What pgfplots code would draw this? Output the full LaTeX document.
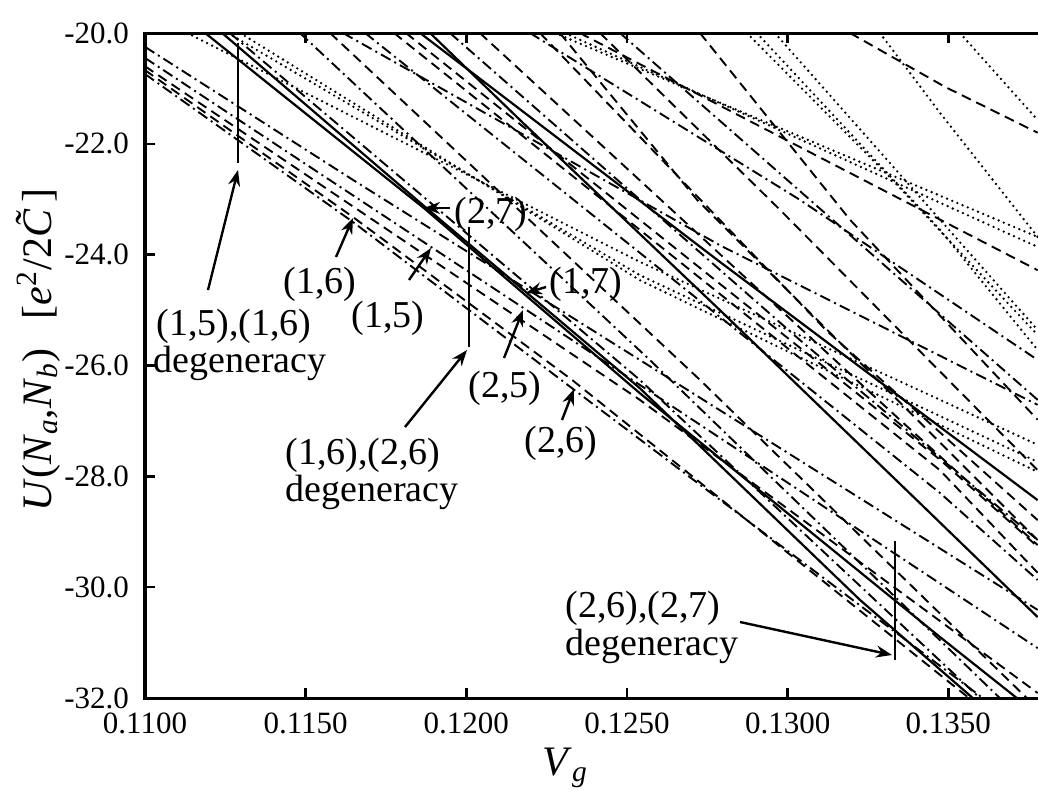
\documentclass[border=0pt]{standalone}
\usepackage{pgfplots}
\pgfplotsset{compat=1.18}
\usepackage{fontspec}
\setmainfont{Liberation Serif}
\usetikzlibrary{arrows.meta}

\tikzset{
  sol/.style={black, line width=1.1pt},
  dsh/.style={black, line width=0.95pt, dash pattern=on 5pt off 3pt},
  dd/.style={black, line width=0.95pt, dash pattern=on 5.5pt off 2.2pt on 1pt off 2.2pt},
  dot/.style={black, line width=1.3pt, line cap=round, dash pattern=on 0pt off 2.8pt},
  ann/.style={font=\fontsize{19}{22}\selectfont, inner sep=0pt},
  arr/.style={line width=1.2pt, -{Stealth[length=8pt,width=6pt]}},
  deg/.style={line width=1.4pt},
}

\begin{document}
\begin{tikzpicture}
\useasboundingbox (0,0) rectangle (519pt,394.5pt);
\begin{axis}[
  at={(72.5pt,45.5pt)}, anchor=south west,
  scale only axis, width=482pt, height=332.5pt,
  xmin=0.11, xmax=0.14, ymin=-32, ymax=-20,
  axis line style={line width=1.5pt},
  xtick={0.11,0.115,0.12,0.125,0.13,0.135},
  ytick={-32,-30,-28,-26,-24,-22,-20},
  tick align=inside, xtick pos=both, ytick pos=left,
  major tick length=5pt,
  major tick style={line width=1.3pt, black},
  scaled x ticks=false,
  xticklabel style={/pgf/number format/fixed, /pgf/number format/fixed zerofill, /pgf/number format/precision=4, yshift=-4pt},
  yticklabel style={/pgf/number format/fixed, /pgf/number format/fixed zerofill, /pgf/number format/precision=1, xshift=-4.5pt},
  /pgf/number format/assume math mode=true,
  tick label style={font=\fontsize{15.5}{18}\selectfont},
]
% solid
\addplot[sol] coordinates {(0.11187,-20.00) (0.11868,-23.16) (0.12540,-26.50) (0.13474,-30.90) (0.13713,-32.00)};
\addplot[sol] coordinates {(0.11240,-20.00) (0.11868,-23.12) (0.12540,-26.41) (0.13225,-30.23) (0.13576,-32.00)};
\addplot[sol] coordinates {(0.11856,-20.00) (0.12789,-24.13) (0.13778,-28.43)};
\addplot[sol] coordinates {(0.11887,-20.00) (0.12176,-21.62) (0.12789,-25.00) (0.13402,-28.43) (0.13778,-30.54)};
% lowest band from the left edge
\addplot[dd] coordinates {(0.11000,-20.25) (0.11647,-22.65) (0.12540,-25.90) (0.13778,-30.41)};
\addplot[dd] coordinates {(0.11000,-20.45) (0.11890,-23.86) (0.12540,-26.35) (0.13778,-31.10)};
\addplot[dsh] coordinates {(0.11000,-20.60) (0.12540,-26.62) (0.13778,-31.91)};
\addplot[dd] coordinates {(0.11000,-20.74) (0.11647,-23.41) (0.12329,-26.41) (0.13607,-32.00)};
\addplot[dsh] coordinates {(0.11000,-20.67) (0.11647,-23.32) (0.12329,-26.26) (0.13564,-32.00)};
% dotted
\addplot[dot] coordinates {(0.11131,-20.00) (0.12540,-24.13) (0.13778,-27.43)};
\addplot[dot] coordinates {(0.11258,-20.00) (0.12540,-24.37) (0.13778,-27.74)};
\addplot[dot] coordinates {(0.11296,-20.00) (0.12540,-24.46) (0.13778,-27.92)};
% middle
\addplot[dd] coordinates {(0.11616,-20.00) (0.12789,-23.83) (0.13778,-26.71)};
\addplot[dsh] coordinates {(0.11775,-20.00) (0.13474,-27.89) (0.13778,-29.74)};
\addplot[dd] coordinates {(0.11685,-20.00) (0.13474,-28.30) (0.13778,-29.87)};
\addplot[dsh] coordinates {(0.11812,-20.00) (0.13474,-27.70) (0.13778,-29.27)};
\addplot[dd] coordinates {(0.11264,-20.00) (0.12540,-26.26) (0.13598,-32.00)};
\addplot[dsh] coordinates {(0.11576,-20.00) (0.12727,-26.26) (0.13744,-32.00)};
\addplot[dd] coordinates {(0.11482,-20.00) (0.12571,-25.90) (0.13660,-32.00)};
\addplot[dd] coordinates {(0.11949,-20.00) (0.13038,-25.54) (0.13778,-29.15)};
\addplot[dsh] coordinates {(0.12042,-20.00) (0.13349,-26.98) (0.13778,-29.24)};
% upper right
\addplot[dot] coordinates {(0.12276,-20.00) (0.13778,-23.68)};
\addplot[dot] coordinates {(0.12307,-20.00) (0.13778,-23.86)};
\addplot[dsh] coordinates {(0.12353,-20.00) (0.13778,-24.28)};
\addplot[dd] coordinates {(0.12198,-20.00) (0.13038,-23.01) (0.13778,-25.90)};
\addplot[dsh] coordinates {(0.12291,-20.00) (0.12718,-23.01) (0.13778,-29.15)};
\addplot[dsh] coordinates {(0.12229,-20.00) (0.13119,-25.36) (0.13778,-28.79)};
\addplot[dsh] coordinates {(0.12416,-20.00) (0.12976,-23.19) (0.13778,-27.89)};
\addplot[dd] coordinates {(0.12478,-20.00) (0.13778,-26.62)};
\addplot[dsh] coordinates {(0.12727,-20.00) (0.13194,-23.37) (0.13778,-26.98)};
\addplot[dot] coordinates {(0.12873,-20.00) (0.13321,-22.62) (0.13778,-25.45)};
\addplot[dot] coordinates {(0.12904,-20.00) (0.13474,-23.55) (0.13778,-25.72)};
\addplot[dot] coordinates {(0.12960,-20.00) (0.13778,-25.36)};
\addplot[dot] coordinates {(0.13287,-20.00) (0.13474,-21.44) (0.13778,-23.68)};
\addplot[dot] coordinates {(0.13536,-20.00) (0.13778,-21.57)};
\addplot[dsh] coordinates {(0.13194,-20.00) (0.13489,-20.97) (0.13778,-21.80)};
\end{axis}

% labels and annotations, in picture pixels (origin top left)
\begin{scope}[yshift=394.5pt, x=0.5pt, y=-0.5pt]
\node[rotate=90, font=\fontsize{21}{24}\selectfont] at (38,350)
  {\textit{U}(\textit{N}\textsubscript{\textit{a}},\textit{N}\textsubscript{\textit{b}})\hspace{15pt}[\textit{e}\textsuperscript{2}/2\textit{C^^^^0303}\kern-0.22em]};
\node[font=\fontsize{21}{24}\selectfont, anchor=base] at (565,775) {\textit{V}\textsubscript{\textit{g}}};

\node[ann, anchor=base west] at (156,335) {(1,5),(1,6)};
\node[ann, anchor=base west] at (153,372) {degeneracy};
\node[ann, anchor=base west] at (283,293) {(1,6)};
\node[ann, anchor=base west] at (351,327) {(1,5)};
\node[ann, anchor=base west] at (454,223) {(2,7)};
\node[ann, anchor=base west] at (549,293) {(1,7)};
\node[ann, anchor=base west] at (468,397) {(2,5)};
\node[ann, anchor=base west] at (524,452) {(2,6)};
\node[ann, anchor=base west] at (285,464) {(1,6),(2,6)};
\node[ann, anchor=base west] at (285,501) {degeneracy};
\node[ann, anchor=base west] at (565,617) {(2,6),(2,7)};
\node[ann, anchor=base west] at (565,655) {degeneracy};

\draw[deg] (238,43) -- (238,163);
\draw[arr] (208,290) -- (238,170);
\draw[arr] (336,257) -- (353,218);
\draw[arr] (409,280) -- (431,248);
\draw[arr] (450,208) -- (424,208);
\draw[arr] (546,287) -- (526,293);
\draw[arr] (504,358) -- (523,310);
\draw[arr] (562,420) -- (574,389);
\draw[deg] (469,227) -- (469,347);
\draw[arr] (405,427) -- (467,350);
\draw[deg] (895,541) -- (895,660);
\draw[arr] (740,622) -- (892,655);
\end{scope}
\end{tikzpicture}
\end{document}
